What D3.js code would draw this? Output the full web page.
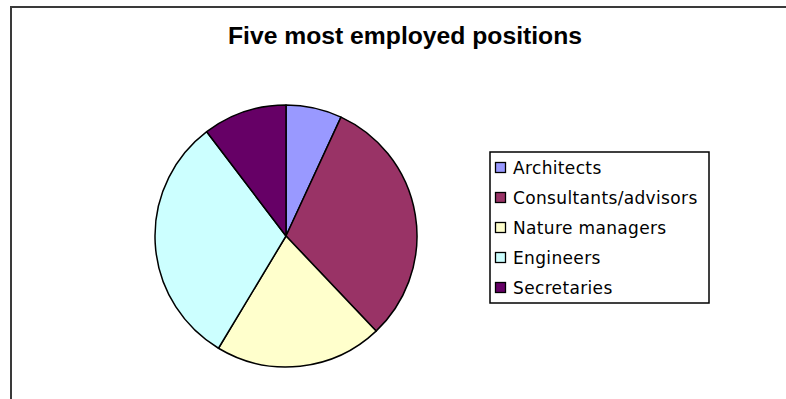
<!DOCTYPE html>
<html>
<head>
<meta charset="utf-8">
<script src="https://cdn.jsdelivr.net/npm/d3@7"></script>
<style>
  html, body { margin: 0; padding: 0; background: #ffffff; }
  svg { display: block; }
</style>
</head>
<body>
<svg id="chart" width="786" height="399"></svg>
<script>
// Staff counts for the five most common positions
const categories = ["Architects", "Consultants/advisors", "Nature managers", "Engineers", "Secretaries"];
const counts = [2, 9, 6, 9, 3];
const colors = ["#9999FF", "#993366", "#FFFFCC", "#CCFFFF", "#660066"];
const title = "Five most employed positions";

const svg = d3.select("#chart");
const W = 786, H = 399;

// Chart area frame (open on the right and bottom)
svg.append("path")
  .attr("d", d3.line()([[11, H + 5], [11, 7], [W + 5, 7]]))
  .attr("fill", "none")
  .attr("stroke", "#3a3a3a")
  .attr("stroke-width", 2);

// Title
svg.append("text")
  .attr("x", 405)
  .attr("y", 44)
  .attr("text-anchor", "middle")
  .attr("font-family", "Liberation Sans, Arial, sans-serif")
  .attr("font-weight", "bold")
  .attr("font-size", 23.5)
  .attr("textLength", 354)
  .attr("lengthAdjust", "spacingAndGlyphs")
  .attr("fill", "#000")
  .text(title);

// Pie
const data = categories.map((c, i) => ({ name: c, value: counts[i] }));
const color = d3.scaleOrdinal().domain(categories).range(colors);
const pie = d3.pie().value(d => d.value).sort(null);
const radius = 131;
const arc = d3.arc().innerRadius(0).outerRadius(radius);

const g = svg.append("g").attr("transform", "translate(286,236)");
g.selectAll("path.slice")
  .data(pie(data))
  .join("path")
  .attr("class", "slice")
  .attr("d", arc)
  .attr("fill", d => color(d.data.name))
  .attr("stroke", "#000")
  .attr("stroke-width", 1.5)
  .attr("stroke-linejoin", "round");

// Legend
const legend = svg.append("g").attr("transform", "translate(490,152)");
legend.append("rect")
  .attr("x", 0).attr("y", 0)
  .attr("width", 219).attr("height", 151)
  .attr("fill", "#fff")
  .attr("stroke", "#000")
  .attr("stroke-width", 1.5);

const rowY = d3.scalePoint().domain(categories).range([16, 136]);
const rows = legend.selectAll("g.row")
  .data(categories)
  .join("g")
  .attr("class", "row")
  .attr("transform", d => `translate(0,${rowY(d)})`);

rows.append("rect")
  .attr("x", 5.5).attr("y", -5.5)
  .attr("width", 10).attr("height", 10)
  .attr("fill", d => color(d))
  .attr("stroke", "#000")
  .attr("stroke-width", 1.3);

rows.append("text")
  .attr("x", 23)
  .attr("y", 6)
  .attr("font-family", "DejaVu Sans, Verdana, sans-serif")
  .attr("font-size", 17)
  .attr("letter-spacing", 0.35)
  .attr("fill", "#000")
  .text(d => d);
</script>
</body>
</html>
